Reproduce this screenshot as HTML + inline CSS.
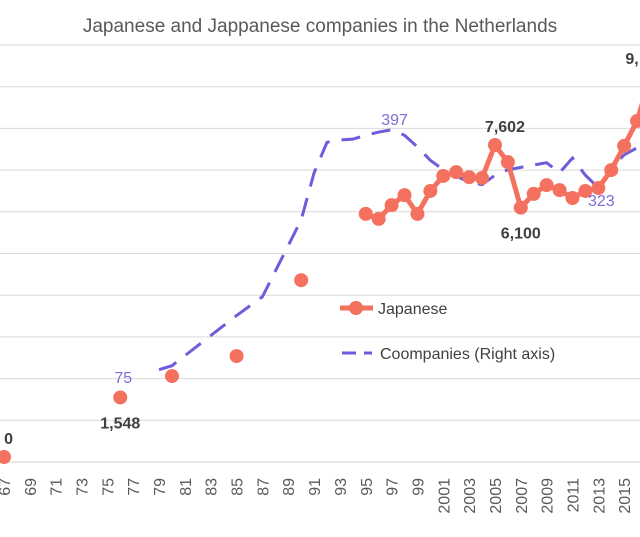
<!DOCTYPE html>
<html><head><meta charset="utf-8"><style>
body{margin:0;background:#fff;}
svg{display:block;font-family:"Liberation Sans",sans-serif;}
</style></head><body>
<svg id="chart" width="640" height="537">
<text x="320" y="32" text-anchor="middle" font-size="19" fill="#595959">Japanese and Jappanese companies in the Netherlands</text>
<g id="grid"></g><g id="xlab"></g><g id="series"></g>
<g>
<g><line x1="340" y1="308" x2="373" y2="308" stroke="#f4705f" stroke-width="5"/><circle cx="356" cy="308" r="7" fill="#f4705f"/><text x="378" y="314" font-size="16" fill="#404040">Japanese</text></g>
<g><line x1="342" y1="353" x2="372" y2="353" stroke="#6b5ddb" stroke-width="3" stroke-dasharray="14,8"/><text x="380" y="359" font-size="16" fill="#404040">Coompanies (Right axis)</text></g>
</g>
</svg>
<script>
const jpYears=[1967,1976,1980,1985,1990,1995,1996,1997,1998,1999,2000,2001,2002,2003,2004,2005,2006,2007,2008,2009,2010,2011,2012,2013,2014,2015,2016,2017];
const jpValues=[120,1548,2060,2540,4360,5950,5830,6160,6400,5950,6500,6860,6950,6830,6810,7602,7190,6100,6430,6640,6520,6330,6500,6570,7000,7580,8180,9200];
const coYears=[1979,1980,1985,1987,1990,1991,1992,1993,1994,1995,1996,1997,1998,1999,2000,2001,2002,2003,2004,2005,2006,2007,2008,2009,2010,2011,2012,2013,2014,2015,2016,2017];
const coValues=[91,96,160,184,282,342,381,384,385,390,394,397,390,375,358,346,338,330,327,339,346,349,352,355,342,361,339,323,348,365,374,378];
const leftTicks=[0,1000,2000,3000,4000,5000,6000,7000,8000,9000,10000];
const jpLabels=[[1967,"0"],[1976,"1,548"],[2005,"7,602"],[2007,"6,100"],[2017,"9,"]];
const coLabels=[[1976,"75"],[1997,"397"],[2013,"323"]];
const NS="http://www.w3.org/2000/svg";
const x=y=>4+(y-1967)*12.92;
const yL=v=>462-v*0.0417;
const yR=v=>441-v*0.784;
function mk(t,a,p){const e=document.createElementNS(NS,t);for(const k in a)e.setAttribute(k,a[k]);p.appendChild(e);return e;}
const grid=document.getElementById('grid');
leftTicks.forEach(v=>{const l=mk('line',{x1:0,x2:640,y1:yL(v),y2:yL(v),stroke:v===0?'#cfcfcf':'#d9d9d9','stroke-width':1},grid);

});
const xl=document.getElementById('xlab');
for(let yr=1967;yr<=2017;yr+=2){const s=yr>=2000?String(yr):String(yr).slice(2);
const t=mk('text',{transform:`translate(${x(yr)+6},478) rotate(-90)`,'text-anchor':'end','font-size':16,fill:'#595959'},xl);t.textContent=s;

}
const sg=document.getElementById('series');
let d='';coYears.forEach((yr,i)=>{d+=(i?'L':'M')+x(yr)+','+yR(coValues[i]);});
const cp=mk('path',{d:d,fill:'none',stroke:'#6b5ddb','stroke-width':3,'stroke-dasharray':'19,12'},sg);


let d2='';let started=false;
jpYears.forEach((yr,i)=>{if(yr<1995)return;d2+=(started?'L':'M')+x(yr)+','+yL(jpValues[i]);started=true;});
const jp=mk('path',{d:d2,fill:'none',stroke:'#f4705f','stroke-width':5,'stroke-linejoin':'round'},sg);


jpYears.forEach((yr,i)=>{const c=mk('circle',{cx:x(yr),cy:yL(jpValues[i]),r:7,fill:'#f4705f'},sg);

});
jpLabels.forEach(([yr,s])=>{const i=jpYears.indexOf(yr);const v=jpValues[i];const below=(yr===2007||yr===1976);
const t=mk('text',{x:yr===1967?x(yr)+9:x(yr)+(yr===2005?10:0),y:below?yL(v)+31:yL(v)-13,'text-anchor':yr===1967?'end':'middle','font-size':16,'font-weight':'bold',fill:'#404040'},sg);
if(yr===2017){t.setAttribute('x',632);t.setAttribute('y',64);}
t.textContent=s;

});
coLabels.forEach(([yr,s])=>{const i=coYears.indexOf(yr);const v=i>=0?coValues[i]:75;
const t=mk('text',{x:x(yr)+3,y:yr===2013?yR(v)+18:(yr===1976?383:yR(v)-5),'text-anchor':'middle','font-size':16,fill:'#7b6fd6'},sg);
t.textContent=s;

});
</script>
</body></html>
